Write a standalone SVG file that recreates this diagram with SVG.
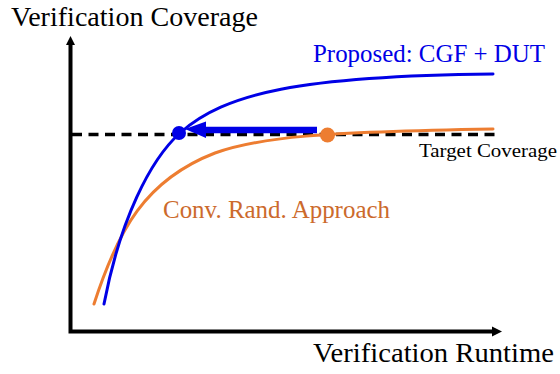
<svg xmlns="http://www.w3.org/2000/svg" width="560" height="374" viewBox="0 0 560 374">
  <style>
    text { font-family: "Liberation Serif", "Times New Roman", serif; }
    .axis { stroke: #000; stroke-width: 4; fill: none; }
    .curve { fill: none; stroke-width: 3; stroke-linecap: round; }
    .blue { stroke: #0000E6; }
    .orange { stroke: #ED7D31; }
  </style>

  <rect width="560" height="374" fill="#fff"/>

  <!-- axes -->
  <g id="axes">
    <polyline class="axis" points="70.5,43 70.5,331.5 493,331.5"/>
    <polygon points="70.5,36 75,45 66,45" fill="#000"/>
    <polygon points="502,331.5 492,326.5 492,336.5" fill="#000"/>
  </g>

  <!-- target coverage level -->
  <g id="target">
    <line x1="72" y1="134.5" x2="499" y2="134.5" stroke="#000" stroke-width="3.5" stroke-dasharray="10 6.5"/>
  </g>

  <!-- coverage curves -->
  <g id="connectors">
    <path id="conv-curve" class="curve orange" d="M94,304 C118,230 145,180 215,153 C260,137 320,132 493,129"/>
    <path id="proposed-curve" class="curve blue" d="M104,304 C120,220 150,160 180,133 C225,93 300,76 493,74"/>
    <!-- runtime saving arrow -->
    <line x1="317" y1="130" x2="200" y2="130" stroke="#0000E6" stroke-width="6.5"/>
    <polygon points="185,129 206,121.5 206,138" fill="#0000E6"/>
  </g>

  <g id="points">
    <circle cx="179" cy="133" r="7" fill="#0000E6"/>
    <circle cx="327.5" cy="135" r="7.5" fill="#ED7D31"/>
  </g>

  <!-- labels -->
  <g id="labels">
    <text x="11" y="26" font-size="27" textLength="247" lengthAdjust="spacingAndGlyphs">Verification Coverage</text>
    <text x="313" y="362" font-size="27" textLength="241" lengthAdjust="spacingAndGlyphs">Verification Runtime</text>
    <text x="313" y="62" font-size="24.5" fill="#0000E6" textLength="232" lengthAdjust="spacingAndGlyphs">Proposed: CGF + DUT</text>
    <text x="163" y="218" font-size="24.5" fill="#CC6A2C" textLength="227" lengthAdjust="spacingAndGlyphs">Conv. Rand. Approach</text>
    <text x="419" y="157" font-size="18" textLength="138" lengthAdjust="spacingAndGlyphs">Target Coverage</text>
  </g>
</svg>
